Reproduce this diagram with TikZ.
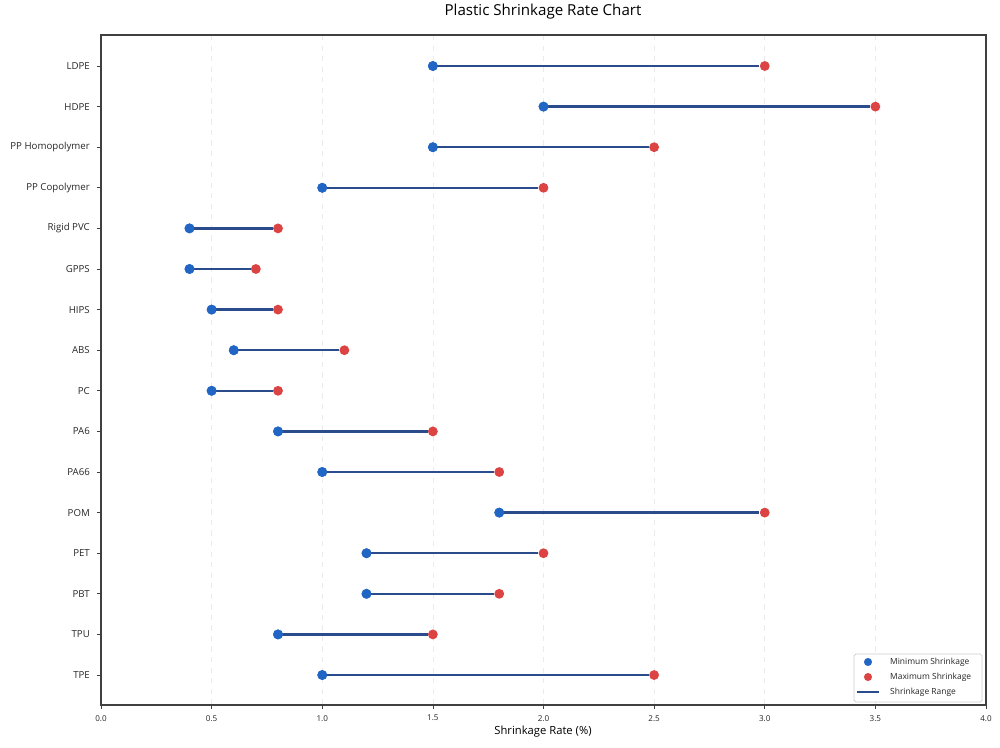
\documentclass[tikz,border=0pt]{standalone}
\usepackage{fontspec}
\setmainfont{Open Sans}
\definecolor{minblue}{HTML}{2166C4}
\definecolor{maxred}{HTML}{DC4343}
\definecolor{rangeblue}{HTML}{2B4C8C}
\tikzset{
  dotmin/.style={circle,fill=minblue,inner sep=0pt,minimum size=5.6pt},
  dotmax/.style={circle,fill=maxred,inner sep=0pt,minimum size=5.6pt},
  rangeline/.style={rangeblue,line width=1.4pt},
  ticklab/.style={font=\fontsize{5.5}{7}\selectfont,text=black!85},
}
\begin{document}
\begin{tikzpicture}[x=0.02cm,y=-0.02cm]
    \useasboundingbox (0,0) rectangle (1000,747);
    % grille
    \foreach \v in {0.5,1.0,...,3.6}
        \draw[black!8,dashed,line width=0.4pt] ({101+221.25*\v},35) -- ({101+221.25*\v},705);
    % axes
    \draw[black!75,line width=0.7pt] (101,35) rectangle (986,705);
    \foreach \v/\t in {0/0.0,0.5/0.5,1/1.0,1.5/1.5,2/2.0,2.5/2.5,3/3.0,3.5/3.5,4/4.0} {
        \draw[black!75] ({101+221.25*\v},705) -- ({101+221.25*\v},709);
        \node[ticklab,font=\fontsize{4.6}{6}\selectfont,below] at ({101+221.25*\v},709) {\t};
    }
    % donnees
    \foreach \nm/\lo/\hi [count=\i from 0] in {LDPE/1.5/3.0,HDPE/2.0/3.5,PP Homopolymer/1.5/2.5,
        PP Copolymer/1.0/2.0,Rigid PVC/0.4/0.8,GPPS/0.4/0.7,HIPS/0.5/0.8,ABS/0.6/1.1,PC/0.5/0.8,
        PA6/0.8/1.5,PA66/1.0/1.8,POM/1.8/3.0,PET/1.2/2.0,PBT/1.2/1.8,TPU/0.8/1.5,TPE/1.0/2.5} {
        \pgfmathsetmacro{\yy}{66+40.6*\i}
        \draw[black!75] (97,\yy) -- (101,\yy);
        \node[ticklab,left] (lab\i) at (96,\yy) {\nm};
        \node[dotmin] (min\i) at ({101+221.25*\lo},\yy) {};
        \node[dotmax] (max\i) at ({101+221.25*\hi},\yy) {};
        \draw[rangeline] (min\i.center) -- (max\i.west);
        \node[dotmin] at (min\i) {};
    }
    % titres
    \node[font=\fontsize{8.6}{10}\selectfont] (titre) at (543,12) {Plastic Shrinkage Rate Chart};
    \node[font=\fontsize{6.4}{8}\selectfont] (xlab) at (543,732) {Shrinkage Rate (\%)};
    % legende
    \draw[black!20,fill=white,rounded corners=1pt] (854,654) rectangle (982,702);
    \node[dotmin,minimum size=4.6pt] (lgmin) at (868,662) {};
    \node[dotmax,minimum size=4.6pt] (lgmax) at (868,677) {};
    \coordinate (lga) at (857,692);
    \coordinate (lgb) at (879,692);
    \draw[rangeline,line width=1.2pt] (lga) -- (lgb);
    \node[ticklab,font=\fontsize{4.8}{6}\selectfont,right] at (884,662) {Minimum Shrinkage};
    \node[ticklab,font=\fontsize{4.8}{6}\selectfont,right] at (884,677) {Maximum Shrinkage};
    \node[ticklab,font=\fontsize{4.8}{6}\selectfont,right] at (884,692) {Shrinkage Range};
\end{tikzpicture}
\end{document}
